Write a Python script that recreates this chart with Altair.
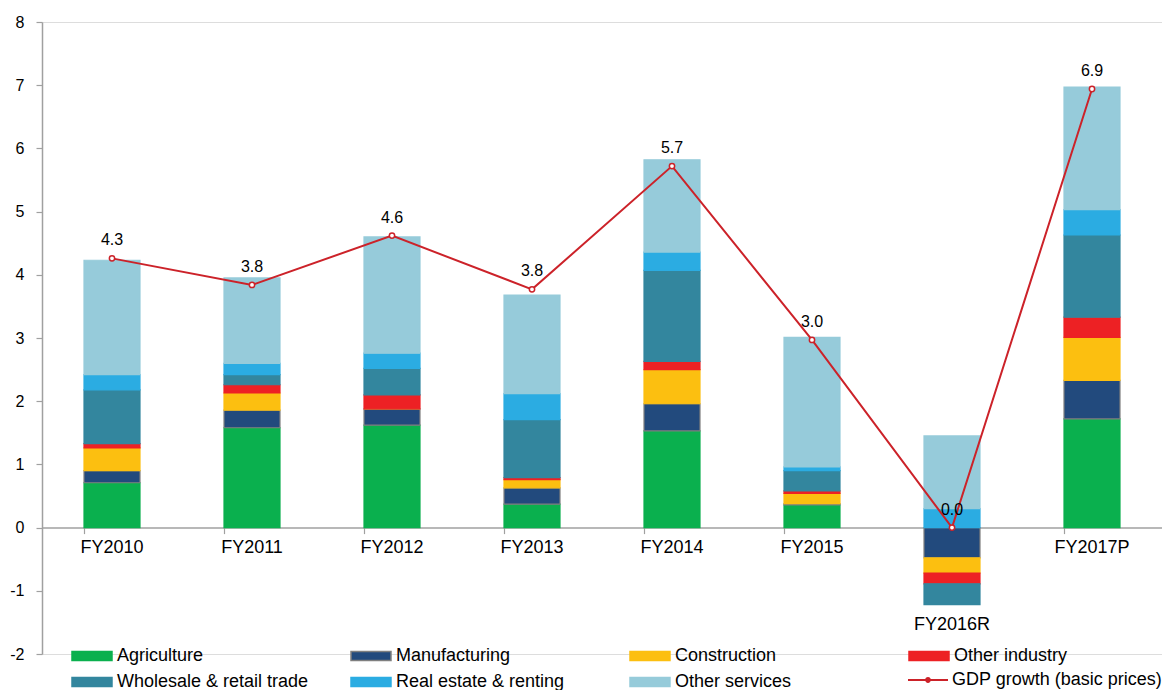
import altair as alt
import pandas as pd

categories = ["FY2010", "FY2011", "FY2012", "FY2013", "FY2014", "FY2015", "FY2016R", "FY2017P"]
series_names = ["Agriculture", "Manufacturing", "Construction", "Other industry",
                "Wholesale & retail trade", "Real estate & renting", "Other services"]
gdp_name = "GDP growth (basic prices)"

agriculture = [0.71, 1.58, 1.62, 0.37, 1.53, 0.36, 0.00, 1.72]
manufacturing = [0.19, 0.28, 0.26, 0.26, 0.43, 0.02, -0.48, 0.61]
construction = [0.36, 0.27, 0.00, 0.13, 0.54, 0.16, -0.24, 0.68]
other_industry = [0.07, 0.13, 0.22, 0.03, 0.13, 0.04, -0.17, 0.32]
wholesale = [0.85, 0.16, 0.42, 0.92, 1.44, 0.32, -0.33, 1.30]
real_estate = [0.24, 0.18, 0.24, 0.41, 0.29, 0.06, 0.30, 0.40]
other_services = [1.81, 1.35, 1.84, 1.56, 1.46, 2.05, 1.15, 1.94]
gdp_growth = [4.26, 3.84, 4.62, 3.77, 5.72, 2.97, 0.00, 6.94]

fill_colors = ["#0AB04E", "#224A7D", "#FCBF10", "#ED2124", "#33869E", "#2BACE2", "#96CBDA"]
stroke_colors = ["#0AB04E", "#7F7F7F", "#FCBF10", "#ED2124", "#33869E", "#2BACE2", "#96CBDA"]
gdp_color = "#CC2229"

series_values = [agriculture, manufacturing, construction, other_industry,
                 wholesale, real_estate, other_services]

rows = []
for si, (name, vals) in enumerate(zip(series_names, series_values)):
    for c, v in zip(categories, vals):
        rows.append({"cat": c, "series": name, "value": v, "idx": si})
bars_df = pd.DataFrame(rows)

gdp_df = pd.DataFrame({"cat": categories, "gdp": gdp_growth, "name": gdp_name})
neg_sum = bars_df[bars_df["value"] < 0].groupby("cat")["value"].sum()
lab_df = pd.DataFrame({"cat": categories,
                       "pos": [min(0.0, float(neg_sum.get(c, 0.0))) for c in categories]})

FONT = "Liberation Sans"
GRAY = "#A0A0A0"

xscale = alt.Scale(domain=categories, paddingInner=0.6, paddingOuter=0.3)
yscale = alt.Scale(domain=[-2, 8], nice=False, zero=False)

x_enc = alt.X("cat:N", scale=xscale, sort=categories, title=None,
              axis=alt.Axis(labels=False, ticks=True, tickSize=6, tickColor=GRAY,
                            domainColor=GRAY, domainWidth=1.5, tickWidth=1.2,
                            bandPosition=0, offset=-126.4, grid=False))
y_axis = alt.Axis(values=list(range(-2, 9)), labelExpr="'' + datum.value", grid=False,
                  tickSize=6, tickColor=GRAY,
                  domainColor=GRAY, domainWidth=1.5, tickWidth=1.2,
                  labelFontSize=16, labelFont=FONT, labelColor="#000000",
                  labelPadding=12, title=None)

sym_rect = "M-2.222,-0.5H2.222V0.5H-2.222Z"
sym_line = ("M-2.222,-0.11H2.222V0.11H-2.222Z"
            "M-0.32,0A0.32,0.32,0,1,1,0.32,0A0.32,0.32,0,1,1,-0.32,0Z")

legend_bars = alt.Legend(
    title=None, orient="none", legendX=40, legendY=624, columns=4, direction="horizontal",
    gridAlign="all", columnPadding=39, rowPadding=7,
    symbolType=sym_rect, symbolSize=324, labelOffset=15, symbolStrokeWidth=1.5,
    symbolOpacity=1,
    labelFontSize=18, labelFont=FONT, labelColor="#000000", labelLimit=300,
    padding=0)

legend_gdp = alt.Legend(
    title=None, orient="none", legendX=877, legendY=649,
    symbolType=sym_line, symbolSize=324, labelOffset=15,
    symbolFillColor=gdp_color, symbolStrokeWidth=0,
    symbolOpacity=1,
    labelFontSize=18, labelFont=FONT, labelColor="#000000", labelLimit=300,
    padding=0)

bars = alt.Chart(bars_df).mark_bar(strokeWidth=1.2).encode(
    x=x_enc,
    y=alt.Y("value:Q", scale=yscale, axis=y_axis, stack="zero"),
    color=alt.Color("series:N", scale=alt.Scale(domain=series_names, range=fill_colors),
                    legend=legend_bars),
    stroke=alt.Stroke("series:N", scale=alt.Scale(domain=series_names, range=stroke_colors),
                      legend=legend_bars),
    order=alt.Order("idx:Q", sort="ascending"),
)

line = alt.Chart(gdp_df).mark_line(strokeWidth=2, color=gdp_color).encode(
    x=alt.X("cat:N", scale=xscale, sort=categories),
    y=alt.Y("gdp:Q", scale=yscale),
)
legend_layer = alt.Chart(gdp_df).mark_point(opacity=0, filled=True, color=gdp_color).encode(
    x=alt.X("cat:N", scale=xscale, sort=categories),
    y=alt.Y("gdp:Q", scale=yscale),
    shape=alt.Shape("name:N", scale=alt.Scale(domain=[gdp_name], range=[sym_line]),
                    legend=legend_gdp),
)
points = alt.Chart(gdp_df).mark_point(shape="circle", size=28, filled=True, fill="#FFFFFF",
                                      stroke=gdp_color, strokeWidth=1.5, opacity=1).encode(
    x=alt.X("cat:N", scale=xscale, sort=categories),
    y=alt.Y("gdp:Q", scale=yscale),
)
gdp_labels = alt.Chart(gdp_df).mark_text(font=FONT, fontSize=16, color="#000000",
                                         baseline="alphabetic", dy=-13).encode(
    x=alt.X("cat:N", scale=xscale, sort=categories),
    y=alt.Y("gdp:Q", scale=yscale),
    text=alt.Text("gdp:Q", format=".1f"),
)
cat_labels = alt.Chart(lab_df).mark_text(font=FONT, fontSize=18, color="#000000",
                                         baseline="top", dy=11).encode(
    x=alt.X("cat:N", scale=xscale, sort=categories),
    y=alt.Y("pos:Q", scale=yscale),
    text="cat:N",
)

chart = alt.layer(bars, line, legend_layer, points, gdp_labels, cat_labels).properties(
    width=1120, height=632,
    autosize=alt.AutoSizeParams(type="none"),
    padding={"left": 42, "top": 22, "right": 0, "bottom": 36},
).configure_view(stroke=None).configure(background="#FFFFFF")

chart.save("out.html", embed_options={"renderer": "svg", "actions": False})
